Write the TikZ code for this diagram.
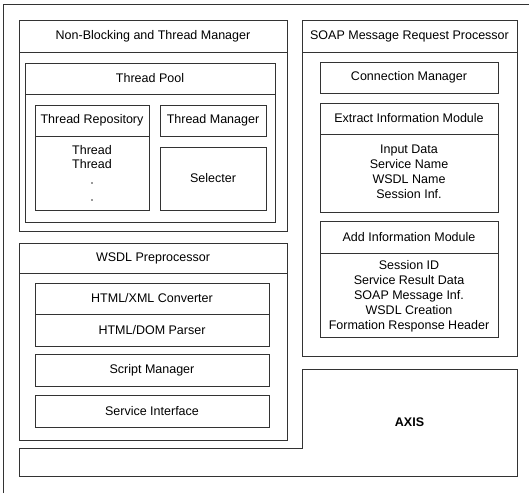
\documentclass[tikz,border=0pt]{standalone}
\usepackage{fontspec}
\setmainfont{Liberation Sans}
\usetikzlibrary{positioning}
\tikzstyle{block} = [draw=black!80, line width=0.8pt, rectangle, inner sep=0pt, align=center, font=\fontsize{12.5}{15}\selectfont]
\tikzstyle{blocktext} = [inner sep=0pt, align=center, font=\fontsize{12.5}{15}\selectfont]
\tikzstyle{frame} = [draw=black!80, line width=0.8pt]

\begin{document}
\begin{tikzpicture}[x=1pt, y=-1pt]
	\useasboundingbox (0,0) rectangle (529,493);
	\draw[frame] (3,493) |- (529,4);
	% Non-Blocking and Thread Manager
	\node[block, minimum width=268, minimum height=211] (nbtm) at (153,125.5) {};
	\node[block, minimum width=268, minimum height=32, anchor=north] (nbtmhead) at (nbtm.north) {Non-Blocking and Thread Manager};
	\node[block, minimum width=250, minimum height=159] (pool) at (150,142.5) {};
	\node[block, minimum width=250, minimum height=31, anchor=north] (poolhead) at (pool.north) {Thread Pool};
	\node[block, minimum width=114, minimum height=105] (repo) at (92,157.5) {};
	\node[block, minimum width=114, minimum height=31, anchor=north] (repohead) at (repo.north) {Thread Repository};
	\node[blocktext, font=\fontsize{12.5}{14}\selectfont] (threads) at (92,157) {Thread\\Thread};
	\fill[black!80] (92,183) circle (0.8pt) (92,200) circle (0.8pt);
	\node[block, minimum width=106, minimum height=31] (tmgr) at (213,120.5) {Thread Manager};
	\node[block, minimum width=106, minimum height=63] (sel) at (213,178.5) {Selecter};
	% WSDL Preprocessor
	\node[block, minimum width=268, minimum height=197] (wsdl) at (153,341.5) {};
	\node[block, minimum width=268, minimum height=30, anchor=north] (wsdlhead) at (wsdl.north) {WSDL Preprocessor};
	\node[block, minimum width=234, minimum height=63] (conv) at (152,314.5) {};
	\node[block, minimum width=234, minimum height=31, anchor=north] (convhead) at (conv.north) {HTML/XML Converter};
	\node[blocktext] (parser) at (152,330) {HTML/DOM Parser};
	\node[block, minimum width=234, minimum height=32] (script) at (152,370) {Script Manager};
	\node[block, minimum width=234, minimum height=32] (service) at (152,411) {Service Interface};
	% SOAP Message Request Processor
	\node[block, minimum width=215, minimum height=336] (soap) at (409.5,188) {};
	\node[block, minimum width=215, minimum height=32, anchor=north] (soaphead) at (soap.north) {SOAP Message Request Processor};
	\node[block, minimum width=178, minimum height=31] (conn) at (409,77.5) {Connection Manager};
	\node[block, minimum width=178, minimum height=109] (extract) at (409,157.5) {};
	\node[block, minimum width=178, minimum height=31, anchor=north] (extracthead) at (extract.north) {Extract Information Module};
	\node[blocktext] (extractinfo) at (409,172) {Input Data\\Service Name\\WSDL Name\\Session Inf.};
	\node[block, minimum width=178, minimum height=116] (addinfo) at (409,279) {};
	\node[block, minimum width=178, minimum height=32, anchor=north] (addinfohead) at (addinfo.north) {Add Information Module};
	\node[blocktext] (addinfolist) at (409,296) {Session ID\\Service Result Data\\SOAP Message Inf.\\WSDL Creation\\Formation Response Header};
	% AXIS
	\draw[frame] (19,448) -| (302,369) -| (517,476) -| (19,448) -- cycle;
	\node[blocktext, font=\fontsize{12.5}{15}\selectfont\bfseries] (axis) at (409.5,422.5) {AXIS};
\end{tikzpicture}
\end{document}
